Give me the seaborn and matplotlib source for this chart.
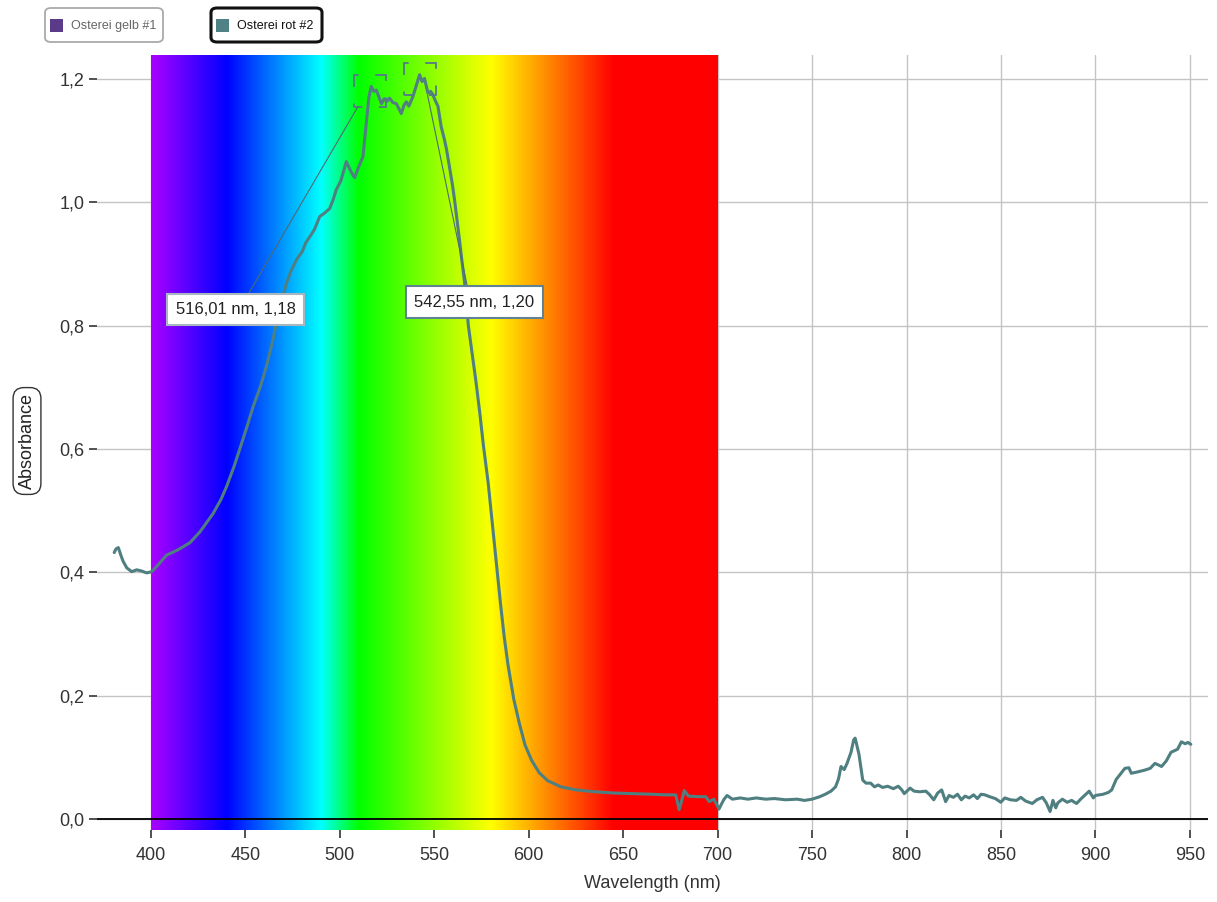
import numpy as np
import pandas as pd
import seaborn as sns
from matplotlib import pyplot as plt
from matplotlib.patches import Rectangle, FancyBboxPatch
from matplotlib.ticker import FuncFormatter

wavelength = [
    380.5, 381.5, 382.7, 384.0, 385.2, 387.2, 389.8, 392.4, 395.1, 397.7,
    400.4, 404.0, 408.3, 414.0, 420.6, 426.0, 432.8, 437.0, 440.0, 444.0,
    447.0, 451.0, 454.0, 458.0, 461.0, 464.0, 466.4, 469.0, 471.7, 474.0,
    477.0, 480.0, 482.0, 484.0, 486.5, 489.3, 492.0, 494.6, 496.5, 498.0,
    500.5, 503.4, 505.5, 507.8, 510.0, 512.2, 514.0, 515.3, 516.6, 518.0,
    519.3, 520.5, 522.0, 523.5, 525.0, 526.3, 528.0, 529.9, 531.2, 532.5,
    534.0, 535.2, 536.5, 538.7, 540.5, 542.2, 543.5, 544.8, 545.8, 546.6,
    548.0, 549.2, 550.5, 551.9, 553.6, 555.4, 556.5, 558.0, 559.5, 560.7,
    562.0, 563.3, 564.6, 566.0, 568.0, 570.0, 572.0, 574.0, 576.0, 578.5,
    581.0, 583.0, 585.0, 587.0, 589.0, 592.0, 595.0, 598.0, 601.5, 605.5,
    610.0, 617.0, 625.0, 635.0, 645.0, 655.0, 665.0, 672.0, 677.8, 679.6,
    681.0, 682.3, 684.5, 690.0, 693.7, 695.5, 698.0, 700.7, 702.0, 703.4,
    705.0, 707.8, 712.0, 716.0, 720.5, 725.4, 730.0, 736.0, 742.0, 746.0,
    750.0, 754.0, 757.0, 760.0, 762.4, 764.0, 765.3, 767.0, 768.5, 770.6,
    772.0, 772.8, 774.0, 774.8, 776.0, 776.8, 778.5, 781.0, 783.0, 785.0,
    787.3, 790.0, 793.0, 795.6, 797.5, 798.8, 801.9, 804.0, 807.0, 810.2,
    812.0, 814.4, 816.5, 818.6, 820.7, 822.5, 824.8, 827.0, 829.0, 831.0,
    833.2, 835.5, 837.5, 839.5, 841.5, 844.0, 847.0, 849.9, 852.0, 855.0,
    858.2, 860.5, 863.0, 866.6, 869.0, 872.0, 874.0, 876.0, 877.5, 879.0,
    880.1, 882.5, 885.0, 887.4, 890.0, 892.5, 896.7, 898.9, 900.0, 904.1,
    906.9, 908.6, 911.0, 915.6, 917.7, 919.0, 922.0, 926.0, 929.0, 931.5,
    933.0, 935.0, 937.5, 940.0, 943.5, 945.5, 947.5, 949.0, 950.5,
]
absorbance = [
    0.432, 0.438, 0.440, 0.428, 0.418, 0.407, 0.401, 0.404, 0.402, 0.399,
    0.401, 0.413, 0.428, 0.436, 0.448, 0.466, 0.495, 0.518, 0.539, 0.572,
    0.600, 0.638, 0.668, 0.702, 0.733, 0.770, 0.804, 0.838, 0.869, 0.888,
    0.907, 0.920, 0.935, 0.944, 0.956, 0.977, 0.983, 0.990, 1.005, 1.020,
    1.035, 1.066, 1.052, 1.040, 1.058, 1.074, 1.129, 1.170, 1.188, 1.180,
    1.182, 1.172, 1.160, 1.168, 1.164, 1.169, 1.162, 1.160, 1.152, 1.144,
    1.158, 1.163, 1.156, 1.172, 1.190, 1.207, 1.196, 1.201, 1.188, 1.177,
    1.180, 1.175, 1.165, 1.156, 1.123, 1.101, 1.085, 1.058, 1.030, 1.004,
    0.972, 0.939, 0.905, 0.870, 0.800, 0.755, 0.710, 0.660, 0.605, 0.545,
    0.470, 0.410, 0.350, 0.295, 0.250, 0.195, 0.155, 0.120, 0.095, 0.075,
    0.062, 0.052, 0.047, 0.044, 0.042, 0.041, 0.040, 0.039, 0.039, 0.015,
    0.030, 0.046, 0.037, 0.036, 0.036, 0.028, 0.032, 0.016, 0.024, 0.032,
    0.038, 0.032, 0.034, 0.032, 0.034, 0.032, 0.033, 0.031, 0.032, 0.030,
    0.032, 0.036, 0.040, 0.045, 0.052, 0.065, 0.085, 0.080, 0.090, 0.108,
    0.128, 0.131, 0.115, 0.105, 0.080, 0.063, 0.058, 0.058, 0.052, 0.055,
    0.051, 0.053, 0.049, 0.053, 0.047, 0.041, 0.050, 0.045, 0.044, 0.045,
    0.040, 0.031, 0.042, 0.047, 0.028, 0.038, 0.035, 0.040, 0.031, 0.037,
    0.034, 0.039, 0.033, 0.040, 0.039, 0.036, 0.033, 0.027, 0.034, 0.031,
    0.030, 0.035, 0.029, 0.025, 0.031, 0.035, 0.026, 0.012, 0.030, 0.018,
    0.026, 0.032, 0.027, 0.030, 0.025, 0.033, 0.045, 0.034, 0.038, 0.040,
    0.043, 0.047, 0.064, 0.082, 0.083, 0.074, 0.076, 0.079, 0.082, 0.090,
    0.088, 0.085, 0.094, 0.108, 0.113, 0.125, 0.122, 0.124, 0.121,
]
x_ticks = [400, 450, 500, 550, 600, 650, 700, 750, 800, 850, 900, 950]
y_ticks = [0.0, 0.2, 0.4, 0.6, 0.8, 1.0, 1.2]
peaks_nm = [516.01, 542.55]
peaks_abs = [1.18, 1.20]
legend_labels = ['Osterei gelb #1', 'Osterei rot #2']

W, H = 1217, 902
LINE_COLOR = '#4f7f80'


def spectrum_rgb(w):
    # classic wavelength -> rgb approximation
    if w < 440:
        r, g, b = -(w - 440) / 60, 0.0, 1.0
    elif w < 490:
        r, g, b = 0.0, (w - 440) / 50, 1.0
    elif w < 510:
        r, g, b = 0.0, 1.0, -(w - 510) / 20
    elif w < 580:
        r, g, b = (w - 510) / 70, 1.0, 0.0
    elif w < 645:
        r, g, b = 1.0, -(w - 645) / 65, 0.0
    else:
        r, g, b = 1.0, 0.0, 0.0
    return [r, g, b]


def fx(px):
    return px / W


def fy(py):
    return 1 - py / H


def comma_fmt(v, pos):
    return f'{v:.1f}'.replace('.', ',')


df = pd.DataFrame({'Wavelength (nm)': wavelength, 'Absorbance': absorbance})

sns.set_style('white')
plt.rcParams['font.family'] = ['Liberation Sans', 'DejaVu Sans']

fig = plt.figure(figsize=(W / 100, H / 100), dpi=100)
ax = fig.add_axes([fx(97), fy(830), fx(1208) - fx(97), fy(55) - fy(830)])
ax.set_xlim(371.4, 959.6)
ax.set_ylim(-0.018, 1.239)

# visible spectrum background
wl = np.linspace(400, 700, 601)
img = np.array([[spectrum_rgb(w) for w in wl]])
ax.imshow(img, extent=(400, 700, -0.018, 1.239), aspect='auto', zorder=1,
          interpolation='bilinear')

ax.set_axisbelow(True)
ax.grid(True, color='#c4c4c4', linewidth=1)
ax.axhline(0, color='black', linewidth=1.3, zorder=2)

sns.lineplot(data=df, x='Wavelength (nm)', y='Absorbance', estimator=None,
             color=LINE_COLOR, linewidth=2.2, ax=ax, zorder=4)

# peak markers and labels
box_pos = [(444.7, 0.826), (571.2, 0.838)]
edge_cols = ['#a8b6c0', '#5f8294']
line_ends = [((451.3, 0.85), (509.5, 1.155)), ((567.5, 0.863), (546.4, 1.174))]
for i in range(2):
    sq = Rectangle((peaks_nm[i] - 8.4, peaks_abs[i] - 0.026), 16.8, 0.052,
                   fill=False, edgecolor='#557a85', linewidth=1.3,
                   linestyle=(4.6, (9.2, 9.2)), zorder=5)
    ax.add_patch(sq)
    (x0, y0), (x1, y1) = line_ends[i]
    ax.plot([x0, x1], [y0, y1], color='#4d6a70', linewidth=0.8, zorder=5)
    label = f'{peaks_nm[i]:.2f} nm, {peaks_abs[i]:.2f}'.replace('.', ',')
    ax.text(box_pos[i][0], box_pos[i][1], label, fontsize=12, color='#222222',
            ha='center', va='center', zorder=6,
            bbox=dict(boxstyle='square,pad=0.5', fc='white', ec=edge_cols[i], lw=1.5))

ax.set_xticks(x_ticks)
ax.set_yticks(y_ticks)
ax.yaxis.set_major_formatter(FuncFormatter(comma_fmt))
ax.tick_params(axis='both', labelsize=13, labelcolor='#333333', color='#333333',
               length=6, width=1.2, direction='out')
ax.tick_params(axis='x', pad=6)
ax.tick_params(axis='y', pad=3)
ax.xaxis.set_ticks_position('bottom')
ax.yaxis.set_ticks_position('left')
sns.despine(ax=ax, top=True, right=True, left=True, bottom=True)

ax.set_ylabel('')
ax.set_xlabel('Wavelength (nm)', fontsize=13, color='#333333', labelpad=8)
fig.text(fx(27), fy(441), 'Absorbance', rotation=90, fontsize=13, color='#222222',
         ha='center', va='center',
         bbox=dict(boxstyle='round,pad=0.3,rounding_size=0.6', fc='white', ec='#333333', lw=1))

# series toggles at the top
legend_boxes = [(45, 163), (211, 322)]
legend_edges = ['#aaaaaa', '#111111']
legend_widths = [1.3, 2.2]
legend_text = ['#666666', '#111111']
legend_cols = ['#5c3a8a', '#4e8284']
for i in range(2):
    bx0, bx1 = legend_boxes[i]
    fig.add_artist(FancyBboxPatch((fx(bx0), fy(42)), fx(bx1) - fx(bx0), fy(8) - fy(42),
                                  boxstyle='round,pad=0,rounding_size=0.005',
                                  transform=fig.transFigure, fc='white',
                                  ec=legend_edges[i], lw=legend_widths[i]))
    fig.add_artist(Rectangle((fx(bx0 + 5), fy(32)), fx(13), fy(19) - fy(32),
                             transform=fig.transFigure, fc=legend_cols[i], ec='none'))
    fig.text(fx(bx0 + 26), fy(26), legend_labels[i], fontsize=9, color=legend_text[i],
             ha='left', va='center')

fig.savefig('out.png', dpi=100)
